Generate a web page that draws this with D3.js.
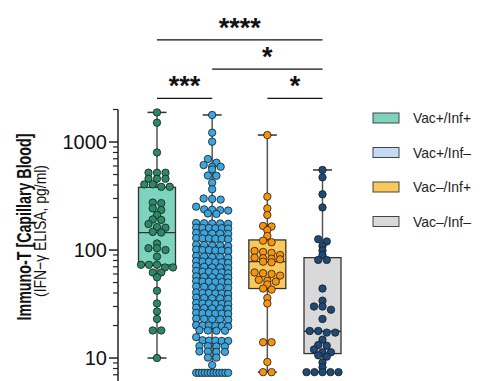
<!DOCTYPE html>
<html>
<head>
<meta charset="utf-8">
<script src="https://cdn.jsdelivr.net/npm/d3@7"></script>
<style>
  body { margin: 0; background: #fff; }
  text { font-family: "Liberation Sans", Arial, sans-serif; }
</style>
</head>
<body>
<script>
const width = 490;
const height = 381;

// groups and their colours
const groups = ["Vac+/Inf+", "Vac+/Inf–", "Vac–/Inf+", "Vac–/Inf–"];
const boxFills = ["#7dd3be", "#c3dbf5", "#f9ca5b", "#d9d9d9"];
const dotFills = ["#2a8a68", "#3aa5de", "#f7940c", "#1d4a76"];

// values (pg/ml)
const vacPosInfPos = [1880, 1510, 800, 520, 520, 520, 457, 457, 457, 405, 405, 385, 385,
  275, 272, 243, 235, 211, 192, 190, 174, 163, 161, 147, 145, 115, 104, 104, 100, 87,
  73, 73, 73, 69, 69, 62, 62, 56, 42, 32, 27, 23, 18, 18, 10];
const vacPosInfNeg = [1780, 1220, 1007, 696, 643, 612, 590, 590, 558, 490, 487, 420, 365,
  300, 297, 293, 252, 238, 236, 234, 232, 218, 216,
  178, 177, 176, 176, 175,
  161, 160, 160, 159, 159, 158,
  144, 143, 142, 142, 141,
  129, 128, 128, 127, 127, 126,
  112, 111, 110, 110, 109,
  101, 100, 100, 99, 99, 98,
  88, 87, 86, 86, 85,
  79, 78, 78, 77, 77, 76,
  71, 70, 69, 69, 68,
  64, 63, 63, 62, 62, 61,
  57, 56.5, 56, 56, 55.5,
  51.5, 51, 51, 50.5, 50.5, 50,
  46, 45.6, 45, 45, 44.6,
  40.5, 40, 40, 39.6, 39.6, 39.2,
  36.3, 36, 35.7, 35.7, 35.4,
  32.3, 32, 32, 31.7, 31.7, 31.4,
  29.2, 29, 28.8, 28.8, 28.6,
  26.2, 26, 26, 25.8, 25.8, 25.6,
  23.2, 23, 22.8, 22.8, 22.6,
  20.2, 20, 20, 19.8, 19.8, 19.6,
  18.1, 18, 17.9, 17.9,
  15.6,
  14.6, 14.5, 14.5, 14.4, 14.4,
  12.9, 12.9, 12.8, 12.8,
  11.5, 11.5, 11.4, 11.4,
  10.1, 10.1, 8.6,
  7.3, 7.3, 7.3, 7.3, 7.3, 7.3, 7.3, 7.3, 7.3, 7.3, 7.3, 7.3];
const vacNegInfPos = [1160, 312, 243, 211, 167, 165, 153, 135, 122, 118, 98, 96, 94, 90,
  85, 84, 83, 82, 78, 77, 62, 61, 60, 58, 53, 52, 51, 48, 44, 43, 36, 32, 14, 14,
  9.2, 7.4, 7.4];
const vacNegInfNeg = [551, 471, 328, 248, 126, 120, 109, 99, 90, 81, 81, 44, 34, 30, 30,
  28, 23, 17.8, 17.8, 17.2, 17.2, 14.8, 13.2, 13, 12, 11.3, 11.3, 10.6, 10.3, 9.1, 8.2,
  7.4, 7.4, 7.4, 7.4, 7.4];
const seriesValues = [vacPosInfPos, vacPosInfNeg, vacNegInfPos, vacNegInfNeg];

// box statistics
const q1s = [72.6, 19, 44, 11];
const medians = [145, 53, 78, 17.7];
const q3s = [381, 110, 124, 85];

// significance comparisons [from, to, level, label]
const comparisons = [
  [0, 1, 0, "***"],
  [2, 3, 0, "*"],
  [1, 3, 1, "*"],
  [0, 3, 2, "****"]
];

const yTicks = [10, 100, 1000];

const svg = d3.select("body").append("svg")
  .attr("width", width)
  .attr("height", height);

const y = d3.scaleLog().domain([6, 2000]).range([382, 109.5]);
const x = d3.scalePoint().domain(groups).range([157, 322.5]);

// axis
const axisX = 118;
const minorTicks = [];
[1, 10, 100, 1000].forEach(d => {
  for (let k = 2; k <= 9; k++) {
    const v = d * k;
    if (v >= 6 && v <= 2000) minorTicks.push(v);
  }
});
const ax = svg.append("g").attr("transform", `translate(${axisX},0)`);
ax.append("line").attr("y1", y(2000)).attr("y2", height + 2)
  .attr("stroke", "#222").attr("stroke-width", 1.5);
ax.selectAll(".minor").data(minorTicks).enter().append("line")
  .attr("x1", -5).attr("x2", 0)
  .attr("y1", d => y(d)).attr("y2", d => y(d))
  .attr("stroke", "#222").attr("stroke-width", 1.2);
ax.selectAll(".major").data(yTicks).enter().append("line")
  .attr("x1", -9).attr("x2", 0)
  .attr("y1", d => y(d)).attr("y2", d => y(d))
  .attr("stroke", "#222").attr("stroke-width", 1.5);
ax.selectAll(".lbl").data(yTicks).enter().append("text")
  .attr("x", -11).attr("y", d => y(d))
  .attr("dy", "0.36em")
  .attr("text-anchor", "end")
  .attr("font-size", 20)
  .attr("fill", "#111")
  .text(d => d);

// y label
svg.append("text")
  .attr("transform", "translate(31,227) rotate(-90)")
  .attr("text-anchor", "middle")
  .attr("font-size", 21)
  .attr("font-weight", "bold")
  .attr("fill", "#111")
  .attr("textLength", 187)
  .attr("lengthAdjust", "spacingAndGlyphs")
  .text("Immuno-T [Capillary Blood]");
svg.append("text")
  .attr("transform", "translate(46,231) rotate(-90)")
  .attr("text-anchor", "middle")
  .attr("font-size", 17)
  .attr("fill", "#111")
  .attr("textLength", 132)
  .attr("lengthAdjust", "spacingAndGlyphs")
  .text("(IFN−γ ELISA, pg/ml)");

// beeswarm rows, points within rowH pixels share a row
function swarm(values, cx) {
  const rowH = 4;
  const gap = 8.5;
  const maxW = 32;
  const pts = values.map(v => ({ v: v, y: y(v) })).sort((a, b) => a.y - b.y);
  const rows = [];
  let cur = null;
  pts.forEach(p => {
    if (!cur || p.y - cur[0].y > rowH) { cur = [p]; rows.push(cur); }
    else cur.push(p);
  });
  rows.forEach(row => {
    const n = row.length;
    const step = n > 1 ? Math.min(gap, maxW / (n - 1)) : 0;
    row.forEach((p, i) => { p.x = cx + (i - (n - 1) / 2) * step; });
  });
  return pts;
}

const boxW = 37;
groups.forEach((g, i) => {
  const cx = x(g);
  const vals = seriesValues[i];
  const lo = d3.min(vals), hi = d3.max(vals);
  const gg = svg.append("g");
  gg.append("line")
    .attr("x1", cx).attr("x2", cx).attr("y1", y(hi)).attr("y2", y(lo))
    .attr("stroke", "#555").attr("stroke-width", 1.5);
  [lo, hi].forEach(v => {
    gg.append("line")
      .attr("x1", cx - 9.5).attr("x2", cx + 9.5).attr("y1", y(v)).attr("y2", y(v))
      .attr("stroke", "#333").attr("stroke-width", 1.5);
  });
  gg.append("rect")
    .attr("x", cx - boxW / 2).attr("width", boxW)
    .attr("y", y(q3s[i])).attr("height", y(q1s[i]) - y(q3s[i]))
    .attr("fill", boxFills[i])
    .attr("stroke", "#333").attr("stroke-width", 1.3);
  gg.append("line")
    .attr("x1", cx - boxW / 2).attr("x2", cx + boxW / 2)
    .attr("y1", y(medians[i])).attr("y2", y(medians[i]))
    .attr("stroke", "#333").attr("stroke-width", 1.3);
  gg.selectAll("circle").data(swarm(vals, cx)).enter().append("circle")
    .attr("cx", d => d.x).attr("cy", d => d.y).attr("r", 3.7)
    .attr("fill", dotFills[i])
    .attr("stroke", "#1a1a1a").attr("stroke-width", 0.8);
});

// significance brackets
const sig = svg.append("g");
comparisons.forEach(([a, b, level, label]) => {
  const ly = 98.3 - level * 29.2;
  const x1 = x(groups[a]), x2 = x(groups[b]);
  sig.append("line")
    .attr("x1", x1).attr("x2", x2).attr("y1", ly).attr("y2", ly)
    .attr("stroke", "#111").attr("stroke-width", 1.3);
  sig.append("text")
    .attr("x", (x1 + x2) / 2).attr("y", ly - 3)
    .attr("text-anchor", "middle")
    .attr("font-family", "DejaVu Sans")
    .attr("font-weight", "bold")
    .attr("font-size", 27)
    .attr("fill", "#111")
    .text(label);
});

// legend
const legend = svg.append("g");
groups.forEach((g, i) => {
  const ly = 118 + i * 34.5;
  legend.append("rect")
    .attr("x", 373).attr("y", ly - 5).attr("width", 26).attr("height", 10)
    .attr("fill", boxFills[i]).attr("stroke", "#444").attr("stroke-width", 1);
  legend.append("text")
    .attr("x", 413).attr("y", ly).attr("dy", "0.36em")
    .attr("font-size", 15).attr("fill", "#222")
    .attr("textLength", 58)
    .attr("lengthAdjust", "spacingAndGlyphs")
    .text(g);
});
</script>
</body>
</html>
